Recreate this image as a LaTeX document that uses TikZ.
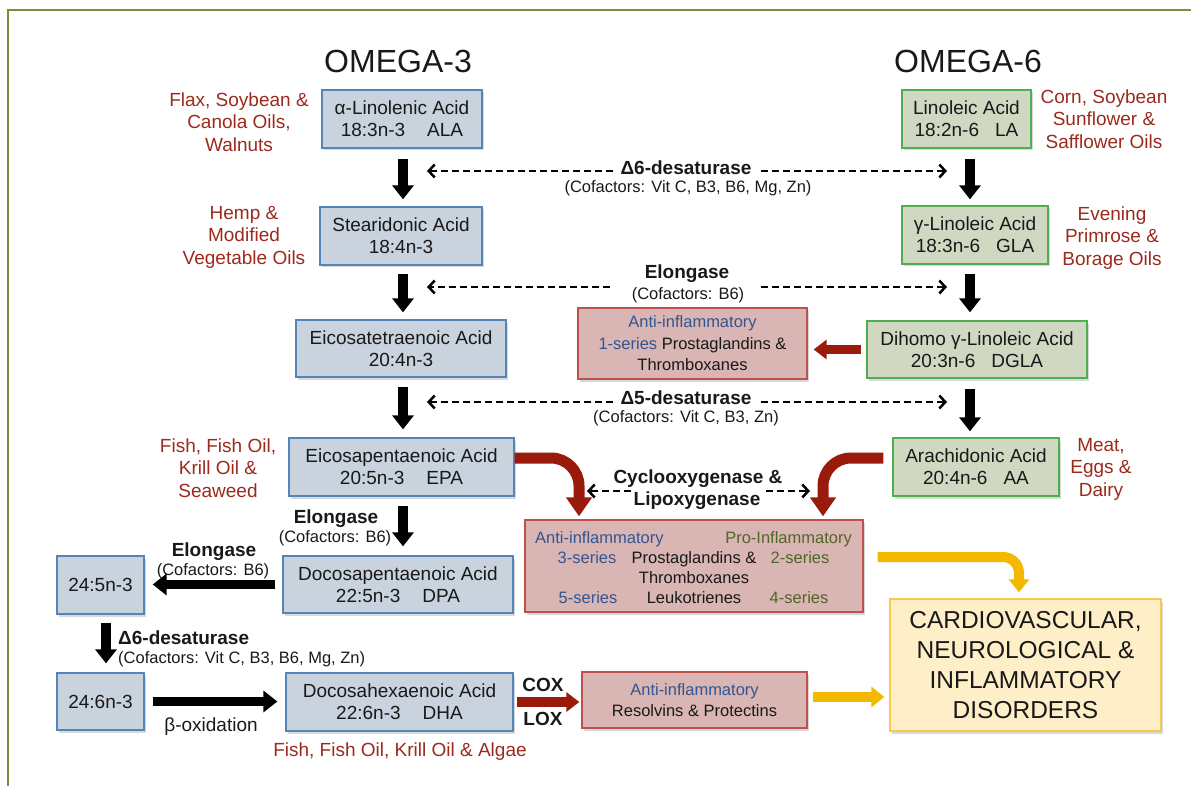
\documentclass[tikz,border=0pt]{standalone}
\usepackage{fontspec}
\setmainfont{Liberation Sans}
\usetikzlibrary{arrows.meta,shadows}
\definecolor{o3fill}{HTML}{C8D3DE}
\definecolor{o3line}{HTML}{5584B8}
\definecolor{o6fill}{HTML}{D0D8C2}
\definecolor{o6line}{HTML}{4CAF50}
\definecolor{rfill}{HTML}{D9B5B4}
\definecolor{rline}{HTML}{C0504D}
\definecolor{yfill}{HTML}{FFEFC8}
\definecolor{yline}{HTML}{F9C94F}
\definecolor{srctext}{HTML}{9C2A1C}
\definecolor{redarrow}{HTML}{9A1B0B}
\definecolor{yelarrow}{HTML}{F5B800}
\definecolor{antiblue}{HTML}{34558F}
\definecolor{progreen}{HTML}{52652A}
\definecolor{framecol}{HTML}{7F8C3C}
\begin{document}
\begin{tikzpicture}[x=1pt,y=-1pt,
  every node/.style={inner sep=0pt, text=black!90},
  shadowed/.style={drop shadow={shadow xshift=2pt,shadow yshift=-2.5pt,opacity=0.3}},
  boxbase/.style={draw, line width=1.3pt, align=center, shadowed, font=\fontsize{19}{22}\selectfont},
  o3box/.style={boxbase, draw=o3line, fill=o3fill},
  o6box/.style={boxbase, draw=o6line, fill=o6fill},
  redbox/.style={boxbase, draw=rline, fill=rfill, font=\fontsize{16.5}{21.5}\selectfont},
  yelbox/.style={boxbase, draw=yline, fill=yfill, font=\fontsize{24.5}{30}\selectfont},
  src/.style={text=srctext, align=center, font=\fontsize{19}{22.5}\selectfont},
  enz/.style={font=\fontsize{19}{22}\selectfont\bfseries},
  cof/.style={font=\fontsize{16.5}{20}\selectfont},
  bt/.style={font=\fontsize{16.5}{20}\selectfont},
  plain/.style={font=\fontsize{19}{22}\selectfont},
  title/.style={font=\fontsize{32}{38}\selectfont},
  bigarr/.style={black, line width=9.5pt, -{Triangle[width=21pt,length=14pt]}},
  redarr/.style={redarrow, line width=11pt, -{Triangle[width=25pt,length=19pt]}},
  redarrs/.style={redarrow, line width=9pt, -{Triangle[width=19pt,length=13pt]}},
  yelarr/.style={yelarrow, line width=10pt, -{Triangle[width=20pt,length=13pt]}},
  dasharr/.style={black, line width=2.5pt, dash pattern=on 7pt off 4pt, -{Straight Barb[length=6pt,width=13pt]}}
]
\useasboundingbox (0,0) rectangle (1191,786);
\draw[framecol, line width=1.2pt] (8,786) -- (8,10) -- (1191,10);

% titles
\node[title, anchor=base] (t3) at (398,73) {OMEGA-3};
\node[title, anchor=base] (t6) at (968,73) {OMEGA-6};

% omega-3 boxes
\node[o3box, minimum width=160pt, minimum height=58pt] (ala) at (402,119) {α-Linolenic Acid\\18:3n-3\hspace{22pt}ALA};
\node[o3box, minimum width=162pt, minimum height=58pt] (sda) at (401,236) {Stearidonic Acid\\18:4n-3};
\node[o3box, minimum width=210pt, minimum height=57pt] (eta) at (401,348.5) {Eicosatetraenoic Acid\\20:4n-3};
\node[o3box, minimum width=225pt, minimum height=58pt] (epa) at (401.5,467) {Eicosapentaenoic Acid\\20:5n-3\hspace{22pt}EPA};
\node[o3box, minimum width=230pt, minimum height=57pt] (dpa) at (398,584.5) {Docosapentaenoic Acid\\22:5n-3\hspace{22pt}DPA};
\node[o3box, minimum width=227pt, minimum height=58pt] (dha) at (399.5,702) {Docosahexaenoic Acid\\22:6n-3\hspace{22pt}DHA};
\node[o3box, minimum width=87pt, minimum height=58pt] (b245) at (100.5,585) {24:5n-3};
\node[o3box, minimum width=87pt, minimum height=57pt] (b246) at (100.5,701.5) {24:6n-3};

% omega-6 boxes
\node[o6box, minimum width=129pt, minimum height=58pt] (la) at (966.5,119) {Linoleic Acid\\18:2n-6\hspace{16pt}LA};
\node[o6box, minimum width=146pt, minimum height=58pt] (gla) at (975,235) {γ-Linoleic Acid\\18:3n-6\hspace{16pt}GLA};
\node[o6box, minimum width=220pt, minimum height=57pt] (dgla) at (977,349.5) {Dihomo γ-Linoleic Acid\\20:3n-6\hspace{16pt}DGLA};
\node[o6box, minimum width=166pt, minimum height=58pt] (aa) at (976,467) {Arachidonic Acid\\20:4n-6\hspace{16pt}AA};

% product boxes
\node[redbox, minimum width=229pt, minimum height=71pt] (rb1) at (692.5,343.5) {\textcolor{antiblue}{Anti-inflammatory}\\\textcolor{antiblue}{1-series} Prostaglandins \&\\Thromboxanes};
\node[redbox, minimum width=338pt, minimum height=92pt] (bigred) at (694,566) {};
\node[redbox, minimum width=225pt, minimum height=56pt] (res) at (694.5,700) {\textcolor{antiblue}{Anti-inflammatory}\\Resolvins \& Protectins};
\node[yelbox, minimum width=271pt, minimum height=132pt] (yel) at (1025.5,665) {CARDIOVASCULAR,\\NEUROLOGICAL \&\\INFLAMMATORY\\DISORDERS};

% big red box contents
\node[bt, text=antiblue, anchor=base west] (bAnti) at (535,543) {Anti-inflammatory};
\node[bt, text=progreen, anchor=base east] (bPro) at (852,543) {Pro-Inflammatory};
\node[bt, text=antiblue, anchor=base] (b3) at (587,563) {3-series};
\node[bt, anchor=base] (bPG) at (694,563) {Prostaglandins \&};
\node[bt, text=progreen, anchor=base] (b2) at (800,563) {2-series};
\node[bt, anchor=base] (bTx) at (694,583) {Thromboxanes};
\node[bt, text=antiblue, anchor=base] (b5) at (588,603) {5-series};
\node[bt, anchor=base] (bLT) at (694,603) {Leukotrienes};
\node[bt, text=progreen, anchor=base] (b4) at (799,603) {4-series};

% food sources
\node[src] (sFlax) at (239,122) {Flax, Soybean \&\\Canola Oils,\\Walnuts};
\node[src] (sCorn) at (1104,119) {Corn, Soybean\\Sunflower \&\\Safflower Oils};
\node[src] (sHemp) at (244,237) {Hemp \&\\Modified\\Vegetable Oils};
\node[src] (sEve) at (1112,238) {Evening\\Primrose \&\\Borage Oils};
\node[src] (sFish) at (218,468) {Fish, Fish Oil,\\Krill Oil \&\\Seaweed};
\node[src] (sMeat) at (1101,469) {Meat,\\Eggs \&\\Dairy};
\node[src, anchor=base] (sAlgae) at (400,756) {Fish, Fish Oil, Krill Oil \& Algae};

% enzyme labels
\node[enz, anchor=base] (d6lab) at (686,175) {Δ6-desaturase};
\node[cof, anchor=base] (d6cof) at (688,193) {(Cofactors: Vit C, B3, B6, Mg, Zn)};
\node[enz, anchor=base] (ellab) at (687,279) {Elongase};
\node[cof, anchor=base] (elcof) at (688,299) {(Cofactors: B6)};
\node[enz, anchor=base] (d5lab) at (686,404) {Δ5-desaturase};
\node[cof, anchor=base] (d5cof) at (686,422) {(Cofactors: Vit C, B3, Zn)};
\node[enz, anchor=base] (cyc) at (698,483) {Cyclooxygenase \&};
\node[enz, anchor=base] (lox) at (697,505) {Lipoxygenase};
\node[enz, anchor=base] (elo2) at (336,523) {Elongase};
\node[cof, anchor=base] (elo2cof) at (335,542) {(Cofactors: B6)};
\node[enz, anchor=base] (elo3) at (214,556) {Elongase};
\node[cof, anchor=base] (elo3cof) at (213,575) {(Cofactors: B6)};
\node[enz, anchor=base west] (d6b) at (118,644) {Δ6-desaturase};
\node[cof, anchor=base west] (d6bcof) at (118,663) {(Cofactors: Vit C, B3, B6, Mg, Zn)};
\node[plain, anchor=base] (box) at (211,731) {β-oxidation};
\node[enz, anchor=base] (cox) at (543,691) {COX};
\node[enz, anchor=base] (loxs) at (543,725) {LOX};

% helper coordinates
\coordinate (c3) at (403,0);
\coordinate (c6) at (970,0);
\coordinate (c245) at (106,0);
\coordinate (d6L) at (427,171);
\coordinate (d6R) at (947,171);
\coordinate (elL) at (427,287);
\coordinate (elR) at (947,287);
\coordinate (d5L) at (427,402);
\coordinate (d5R) at (947,402);
\coordinate (coxL) at (587,491);
\coordinate (coxR) at (810,491);
\coordinate (cL) at (579,0);
\coordinate (cR) at (823,0);
\coordinate (cY) at (1019,0);

% vertical conversion arrows
\draw[bigarr, shorten <=10pt, shorten >=7pt] (c3 |- ala.south) -- (c3 |- sda.north);
\draw[bigarr, shorten <=8pt, shorten >=7pt] (c3 |- sda.south) -- (c3 |- eta.north);
\draw[bigarr, shorten <=9pt, shorten >=8pt] (c3 |- eta.south) -- (c3 |- epa.north);
\draw[bigarr, shorten <=9pt, shorten >=9pt] (c3 |- epa.south) -- (c3 |- dpa.north);
\draw[bigarr, shorten <=10pt, shorten >=6pt] (c6 |- la.south) -- (c6 |- gla.north);
\draw[bigarr, shorten <=9pt, shorten >=8pt] (c6 |- gla.south) -- (c6 |- dgla.north);
\draw[bigarr, shorten <=10pt, shorten >=6pt] (c6 |- dgla.south) -- (c6 |- aa.north);
\draw[bigarr, shorten <=7pt, shorten >=8pt] (dpa.west) -- (dpa.west -| b245.east);
\draw[bigarr, shorten <=8pt, shorten >=9pt] (c245 |- b245.south) -- (c245 |- b246.north);
\draw[bigarr, shorten <=8pt, shorten >=8pt] (b246.east) -- (b246.east -| dha.west);

% enzyme dashed arrows
\draw[dasharr, shorten <=7pt] (d6lab.west |- d6L) -- (d6L);
\draw[dasharr, shorten <=9pt] (d6lab.east |- d6R) -- (d6R);
\draw[dasharr, shorten <=22pt] (elcof.west |- elL) -- (elL);
\draw[dasharr, shorten <=17pt] (elcof.east |- elR) -- (elR);
\draw[dasharr, shorten <=7pt] (d5lab.west |- d5L) -- (d5L);
\draw[dasharr, shorten <=9pt] (d5lab.east |- d5R) -- (d5R);
\draw[dasharr, shorten <=2pt] (lox.west |- coxL) -- (coxL);
\draw[dasharr, shorten <=5pt] (lox.east |- coxR) -- (coxR);

% red arrows
\draw[redarrs, shorten <=5pt, shorten >=6pt] (dgla.west) -- (dgla.west -| rb1.east);
\draw[redarr, rounded corners=28pt, shorten >=3pt] ([yshift=9pt]epa.east) -| (cL |- bigred.north);
\draw[redarr, rounded corners=28pt, shorten <=9pt, shorten >=3pt] ([yshift=9pt]aa.west) -| (cR |- bigred.north);
\draw[redarrs, line width=10pt, shorten <=3pt, shorten >=2pt] (dha.east) -- (dha.east -| res.west);

% yellow arrows
\draw[yelarr, rounded corners=16pt, shorten <=14pt, shorten >=6pt] ([yshift=9pt]bigred.east) -| (cY |- yel.north);
\draw[yelarr, shorten <=5pt, shorten >=5pt] ([yshift=3pt]res.east) -- ([yshift=3pt]res.east -| yel.west);
\end{tikzpicture}
\end{document}
